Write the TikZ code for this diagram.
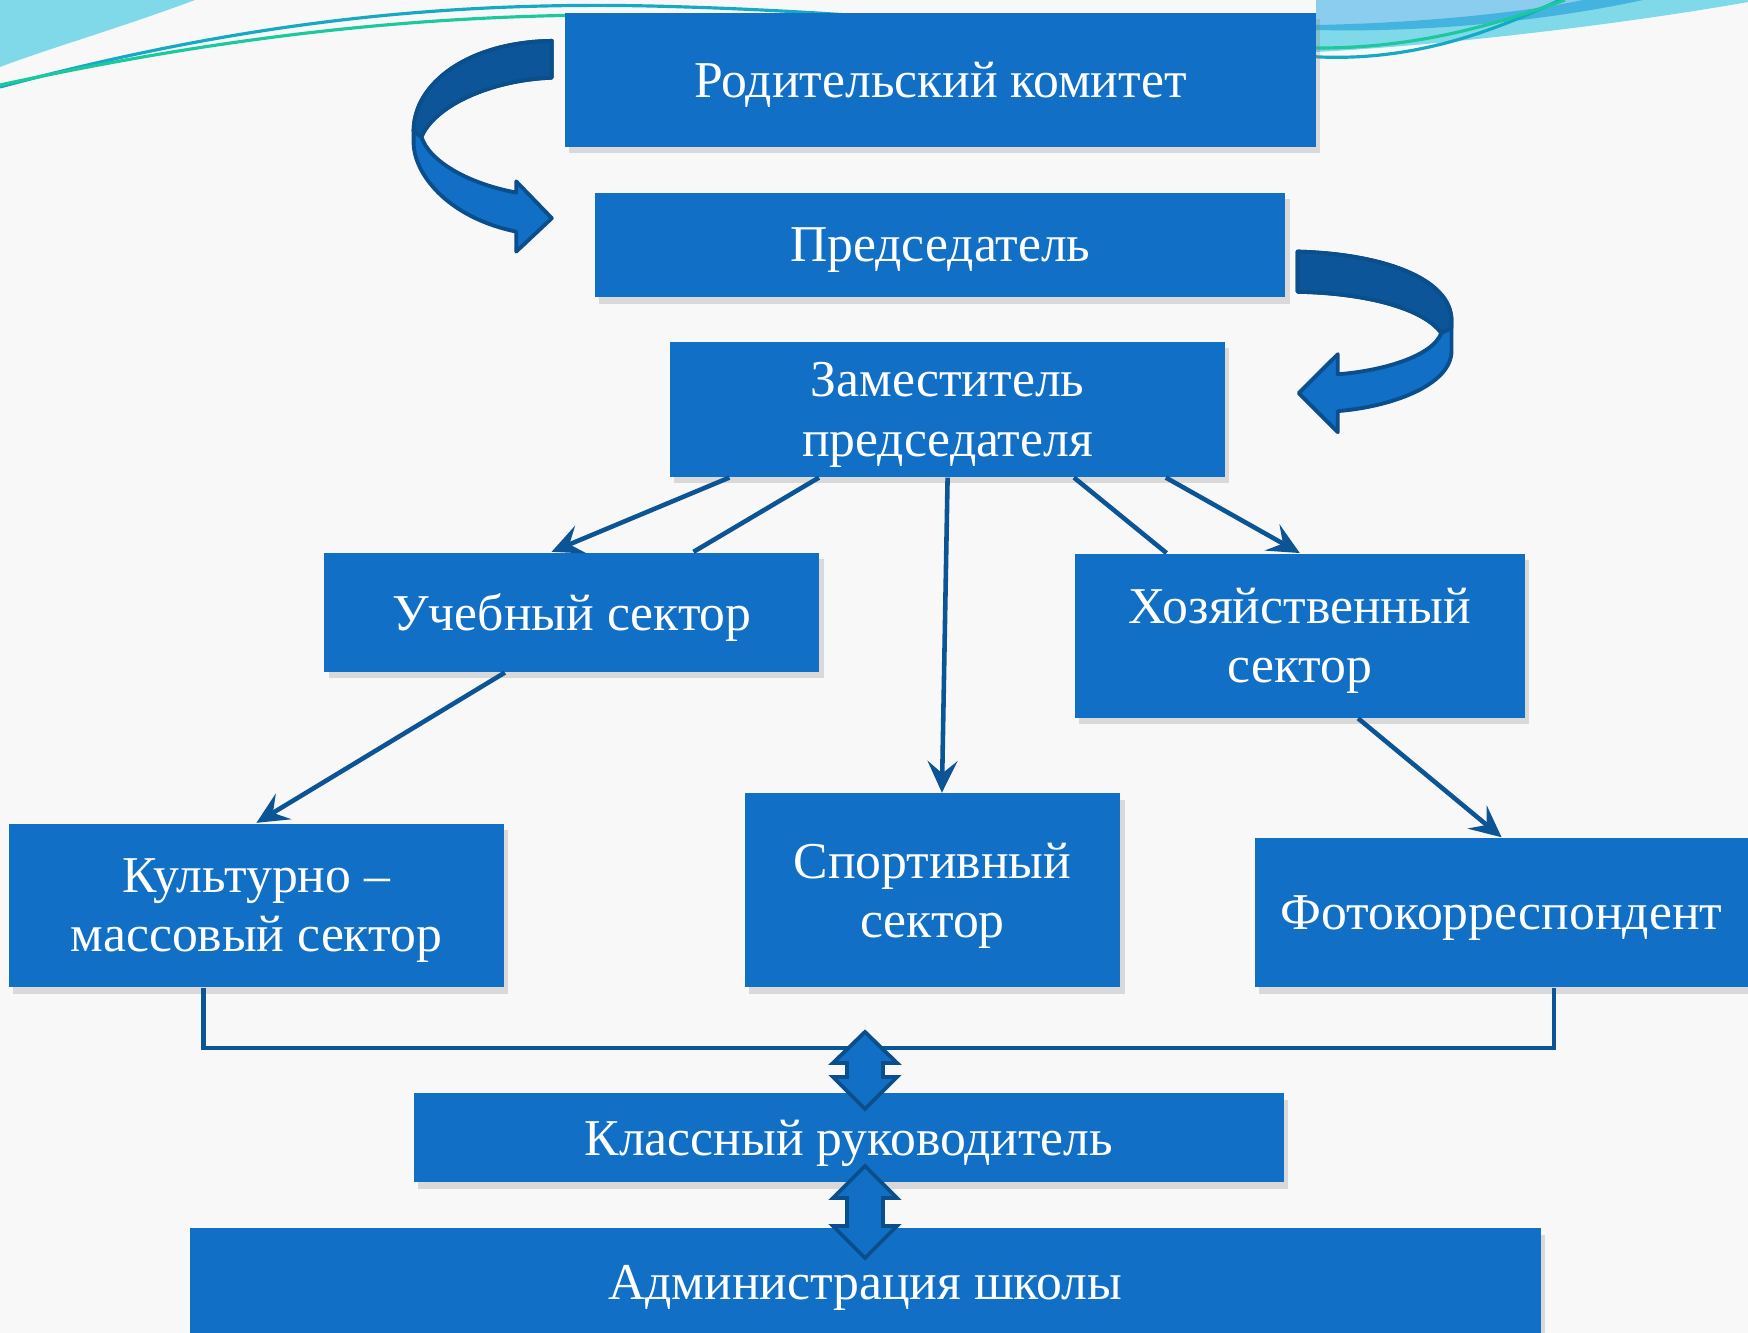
\documentclass[tikz,border=0pt]{standalone}
\usepackage{fontspec}
\setmainfont{Liberation Serif}
\usetikzlibrary{arrows.meta,shadows,calc}
\definecolor{boxblue}{HTML}{1170C6}
\definecolor{lineblue}{HTML}{0B5597}
\definecolor{darkribbon}{HTML}{0B5598}
\definecolor{ribbonedge}{HTML}{0A4E8C}
\definecolor{bgcol}{HTML}{F8F8F8}
\definecolor{wavecyan}{HTML}{7FD9E8}
\definecolor{waveblue}{HTML}{8ACDEE}
\definecolor{wavemid}{HTML}{45B3E0}
\definecolor{waveteal}{HTML}{14A9C4}
\definecolor{wavegreen}{HTML}{1CC99C}
\tikzset{
    sector/.style={fill=boxblue, text=white, align=center, inner sep=0pt, text depth=0pt,
        font=\fontsize{14.7}{16.8}\selectfont,
        drop shadow={shadow xshift=1.2pt, shadow yshift=-1.8pt, opacity=0.25}},
    link/.style={draw=lineblue, line width=1.3pt},
    linkarrow/.style={link, -{Stealth[length=9pt,width=8.5pt,inset=3.5pt]}},
    updown/.style={fill=boxblue, draw=ribbonedge, line width=1.1pt, line join=miter},
    ribbon/.style={fill=boxblue, draw=ribbonedge, line width=1.1pt, line join=round},
    ribbondark/.style={fill=darkribbon, draw=ribbonedge, line width=1.1pt, line join=round},
}

\begin{document}
\begin{tikzpicture}
	\useasboundingbox (0,0) rectangle (17.48,13.33);
	\fill[bgcol] (0,0) rectangle (17.48,13.33);
	% waves at the top
	\fill[wavecyan] (0,13.33) -- (1.95,13.33) .. controls (1.2,13.05) and (0.5,12.85) .. (0,12.66) -- cycle;
	\fill[wavecyan] (13.16,12.81) .. controls (14.5,12.88) and (16.3,13.1) .. (17.48,13.31) -- (17.48,13.33) -- (13.16,13.33) -- cycle;
	\fill[waveblue] (13.16,13.33) -- (13.16,13.08) .. controls (14.2,13.1) and (15.2,13.2) .. (15.83,13.33) -- cycle;
	\fill[wavemid] (13.16,13.08) .. controls (14.2,13.1) and (15.2,13.2) .. (15.83,13.33) -- (16.43,13.33) .. controls (15.6,13.15) and (14.4,13.0) .. (13.16,13.03) -- cycle;
	\draw[waveteal, line width=0.9pt] (0,12.46) .. controls (2.2,13.05) and (4.2,13.32) .. (6.5,13.27) .. controls (9.5,13.2) and (11.5,12.85) .. (13.2,12.76) .. controls (14.2,12.72) and (15,13.05) .. (15.6,13.33);
	\draw[wavegreen, line width=0.9pt] (0,12.48) .. controls (2.4,13.0) and (4.4,13.2) .. (6.5,13.18) .. controls (9.5,13.1) and (11.5,12.9) .. (13.2,12.85) .. controls (14.2,12.85) and (15,13.1) .. (15.65,13.33);

	\node[sector, minimum width=7.503cm, minimum height=1.338cm] (komitet) at (9.404,12.530) {Родительский комитет};
	\node[sector, minimum width=6.901cm, minimum height=1.048cm] (pred) at (9.403,10.880) {Председатель};
	\node[sector, minimum width=5.552cm, minimum height=1.349cm] (zam) at (9.476,9.236) {Заместитель\\председателя};
	\node[sector, minimum width=4.950cm, minimum height=1.193cm] (ucheb) at (5.719,7.208) {Учебный сектор};
	\node[sector, minimum width=4.504cm, minimum height=1.639cm] (hoz) at (12.998,6.973) {Хозяйственный\\сектор};
	\node[sector, minimum width=4.950cm, minimum height=1.639cm] (kult) at (2.564,4.275) {Культурно –\\массовый сектор};
	\node[sector, minimum width=3.757cm, minimum height=1.940cm] (sport) at (9.325,4.426) {Спортивный\\сектор};
	\node[sector, minimum width=4.927cm, minimum height=1.494cm] (foto) at (15.016,4.203) {Фотокорреспондент};
	\node[sector, minimum width=8.706cm, minimum height=0.892cm] (klass) at (8.489,1.951) {Классный руководитель};
	\node[sector, minimum width=13.512cm, minimum height=1.078cm] (admin) at (8.651,0.509) {Администрация школы};

	% curved arrows
	\draw[ribbon] (5.518,12.921) .. controls (4.682,12.909) and (4.136,12.497) .. (4.136,12.018) -- (4.136,11.906)
		.. controls (4.136,11.605) and (4.459,11.159) .. (5.162,11.014) -- (5.162,10.814) -- (5.518,11.148)
		-- (5.162,11.516) -- (5.162,11.404) .. controls (4.682,11.494) and (4.292,11.716) .. (4.214,11.962)
		.. controls (4.348,12.274) and (4.905,12.530) .. (5.518,12.553) -- cycle;
	\draw[ribbondark] (5.518,12.921) .. controls (4.682,12.909) and (4.136,12.497) .. (4.136,12.018) -- (4.214,11.962)
		.. controls (4.348,12.274) and (4.905,12.530) .. (5.518,12.553) -- cycle;
	\draw[ribbon] (12.976,10.814) .. controls (13.824,10.791) and (14.515,10.546) .. (14.515,10.122) -- (14.515,9.821)
		.. controls (14.515,9.487) and (13.935,9.264) .. (13.378,9.219) -- (13.378,9.008) -- (12.987,9.398)
		-- (13.378,9.788) -- (13.378,9.587) .. controls (13.824,9.621) and (14.325,9.766) .. (14.414,10.000)
		.. controls (14.214,10.267) and (13.601,10.401) .. (12.976,10.412) -- cycle;
	\draw[ribbondark] (12.976,10.814) .. controls (13.824,10.791) and (14.515,10.546) .. (14.515,10.122) -- (14.515,10.05)
		-- (14.414,10.000) .. controls (14.214,10.267) and (13.601,10.401) .. (12.976,10.412) -- cycle;

	% connectors
	\draw[linkarrow] ($(zam.south west)!0.108!(zam.south east)$) -- ($(ucheb.north west)!0.459!(ucheb.north east)$);
	\draw[link] ($(zam.south west)!0.269!(zam.south east)$) -- ($(ucheb.north west)!0.745!(ucheb.north east)$);
	\draw[linkarrow] (zam.south) -- ($(sport.north west)!0.525!(sport.north east)$);
	\draw[link] ($(zam.south west)!0.727!(zam.south east)$) -- ($(hoz.north west)!0.205!(hoz.north east)$);
	\draw[linkarrow] ($(zam.south west)!0.892!(zam.south east)$) -- (hoz.north);
	\draw[linkarrow] ($(ucheb.south west)!0.365!(ucheb.south east)$) -- (kult.north);
	\draw[linkarrow] ($(hoz.south west)!0.629!(hoz.south east)$) -- (foto.north);
	\draw[link] ($(kult.south west)!0.394!(kult.south east)$) -- ++(0,-0.6) -| ($(foto.south west)!0.606!(foto.south east)$);

	% up-down arrows
\begin{scope}[shift={(8.65,0)}]
	\draw[updown] (0,3.01) -- (0.32,2.70) -- (0.18,2.70) -- (0.18,2.56) -- (0.32,2.56) -- (0,2.24)
		-- (-0.32,2.56) -- (-0.18,2.56) -- (-0.18,2.70) -- (-0.32,2.70) -- cycle;
	\draw[updown] (0,1.67) -- (0.32,1.35) -- (0.18,1.35) -- (0.18,1.07) -- (0.32,1.07) -- (0,0.75)
		-- (-0.32,1.07) -- (-0.18,1.07) -- (-0.18,1.35) -- (-0.32,1.35) -- cycle;
\end{scope}
\end{tikzpicture}
\end{document}
